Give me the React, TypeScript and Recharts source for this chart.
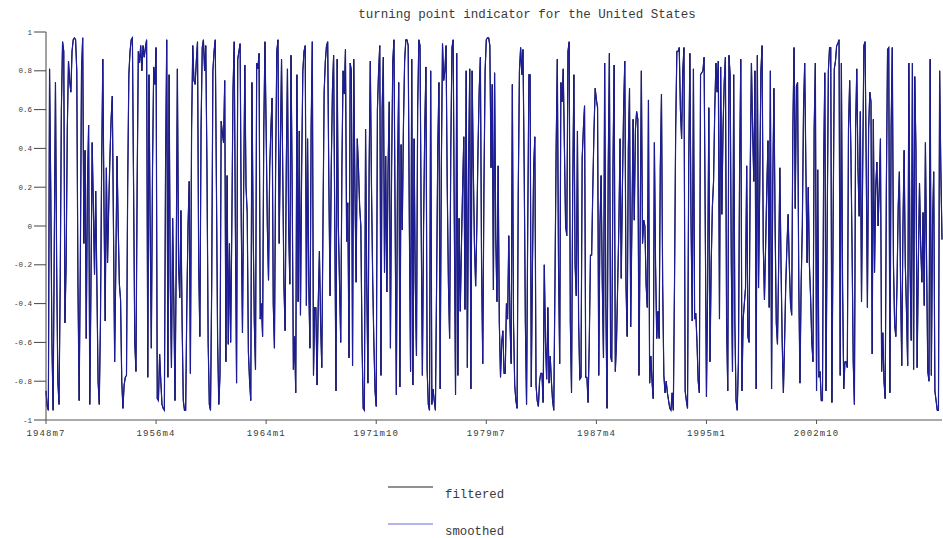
import { LineChart, Line, XAxis, YAxis } from "recharts";

const MONO = "'Liberation Mono', 'DejaVu Sans Mono', monospace";

// first observation: 1948m7, monthly
const START_YEAR = 1948;
const START_MONTH = 7;

// turning point indicator, one row per year
const tp1940s = [
  -0.85, -0.93, -0.95, 0.81, 0.2, -0.6,
  -0.95, -0.1, 0.74, -0.2, -0.8, -0.92, -0.3, 0.6, 0.95, 0.9, -0.5, -0.2,
];
const tp1950s = [
  0.5, 0.85, 0.75, 0.69, 0.9, 0.96, 0.97, 0.96, 0.8, -0.3, -0.9, -0.2,
  0.8, 0.97, -0.09, 0.39, -0.58, 0.2, 0.52, -0.92, -0.3, 0.43, 0.1, -0.25,
  0.18, -0.3, -0.8, -0.92, -0.5, 0.3, 0.86, 0.1, -0.49, 0.3, -0.19, 0.1,
  0.35, 0.55, 0.67, 0.0, -0.7, -0.2, 0.36, 0.0, -0.3, -0.38, -0.8, -0.94,
  -0.82, -0.78, -0.77, 0.2, 0.78, 0.9, 0.96, 0.97, 0.2, -0.6, -0.75, 0.2,
  0.9, 0.84, 0.93, 0.8, 0.93, 0.87, 0.92, 0.96, -0.78, 0.78, 0.0, -0.63,
  0.3, 0.82, 0.73, 0.92, -0.89, -0.9, -0.66, -0.8, -0.92, -0.94, -0.95, 0.3,
  0.96, -0.78, 0.78, -0.3, -0.73, 0.04, -0.4, -0.9, -0.2, 0.81, -0.2, -0.37,
  0.08, -0.5, -0.9, -0.95, -0.95, -0.4, 0.0, 0.23, -0.76, 0.5, 0.93, 0.75,
  0.73, 0.85, 0.95, -0.2, -0.57, 0.5, 0.92, 0.96, 0.8, 0.93, 0.3, -0.6,
];
const tp1960s = [
  -0.92, -0.95, -0.3, 0.8, 0.9, 0.96, 0.2, -0.6, -0.92, -0.77, 0.54, 0.48,
  0.43, 0.75, -0.7, 0.26, -0.61, -0.09, -0.6, 0.0, 0.7, 0.95, 0.0, -0.81,
  0.86, 0.9, 0.94, 0.0, -0.55, 0.2, 0.83, 0.2, 0.07, -0.65, -0.8, -0.9,
  0.74, 0.0, -0.5, -0.74, 0.84, 0.81, 0.89, -0.48, -0.4, -0.57, 0.5, 0.95,
  0.5, 0.0, -0.28, 0.3, 0.5, 0.66, -0.4, -0.63, 0.3, 0.9, 0.96, -0.09,
  0.4, 0.86, 0.3, -0.3, -0.54, 0.3, 0.81, 0.0, -0.3, 0.88, 0.2, -0.74,
  -0.57, -0.86, 0.78, -0.39, 0.49, -0.46, 0.3, 0.8, 0.9, 0.93, -0.41, 0.45,
  -0.3, -0.63, 0.5, 0.95, -0.77, -0.42, -0.42, -0.82, -0.4, -0.13, -0.5, -0.73,
  0.0, 0.69, 0.85, 0.93, 0.95, 0.2, -0.36, 0.3, 0.7, 0.88, 0.0, -0.85,
  0.86, 0.0, -0.3, -0.6, 0.3, 0.8, 0.68, 0.91, -0.08, 0.12, -0.68, 0.84,
];
const tp1970s = [
  0.8, -0.72, 0.86, 0.2, -0.29, 0.45, 0.3, 0.1, 0.0, -0.6, -0.94, -0.95,
  0.5, -0.3, -0.81, 0.3, 0.85, 0.2, -0.27, -0.6, -0.85, -0.93, 0.6, 0.8,
  0.93, -0.77, 0.6, 0.87, -0.24, 0.36, -0.34, 0.3, 0.64, -0.63, 0.3, 0.85,
  0.96, 0.0, -0.87, 0.3, 0.74, -0.83, 0.42, -0.02, 0.52, 0.85, 0.96, 0.96,
  0.93, 0.0, -0.75, 0.86, -0.82, 0.45, -0.3, -0.67, 0.6, 0.96, 0.93, 0.0,
  -0.77, 0.0, 0.5, 0.82, -0.74, -0.92, -0.95, 0.8, -0.92, -0.84, -0.9, -0.95,
  -0.3, 0.4, 0.74, -0.84, 0.3, 0.94, 0.75, 0.8, 0.93, 0.2, -0.3, -0.58,
  0.4, 0.92, 0.96, 0.0, -0.87, 0.89, -0.77, 0.04, -0.44, -0.1, 0.2, 0.46,
  -0.43, 0.8, -0.73, 0.3, 0.81, -0.84, 0.8, 0.3, -0.1, -0.31, 0.0, 0.4,
  0.7, 0.87, -0.2, -0.71, 0.2, 0.8, 0.96, 0.97, 0.97, 0.93, 0.3, 0.73,
];
const tp1980s = [
  -0.33, 0.79, -0.06, -0.39, 0.31, -0.5, -0.78, -0.6, -0.54, -0.76, -0.76, -0.4,
  -0.48, -0.05, -0.5, -0.71, 0.73, -0.5, -0.82, -0.9, -0.94, 0.18, 0.8, 0.92,
  0.78, 0.91, 0.3, -0.5, -0.92, 0.0, 0.78, 0.78, -0.83, -0.2, 0.3, 0.46,
  -0.82, -0.9, -0.93, -0.8, -0.76, -0.76, -0.91, -0.2, -0.6, -0.79, -0.42, -0.81,
  -0.67, -0.8, -0.9, -0.95, -0.3, 0.4, 0.86, -0.2, -0.71, 0.74, 0.64, 0.81,
  0.4, 0.0, -0.05, 0.9, 0.95, -0.5, -0.86, 0.2, 0.78, -0.2, -0.36, 0.49,
  -0.5, -0.79, -0.78, 0.35, 0.5, 0.62, -0.78, -0.78, -0.91, -0.6, -0.15, -0.15,
  0.2, 0.5, 0.71, 0.65, 0.61, -0.77, 0.0, 0.26, -0.3, -0.68, 0.84, -0.4,
  -0.94, 0.3, 0.89, -0.67, -0.7, 0.3, 0.83, -0.75, -0.6, -0.3, 0.0, 0.45,
  -0.27, 0.2, 0.6, 0.85, -0.3, -0.57, 0.4, 0.71, -0.52, 0.0, 0.55, 0.03,
];
const tp1990s = [
  0.5, 0.59, 0.55, -0.77, 0.0, 0.8, -0.09, 0.03, 0.0, -0.3, -0.42, 0.65,
  -0.81, -0.67, -0.8, -0.89, 0.43, -0.2, -0.58, -0.44, -0.58, 0.3, 0.68, -0.3,
  -0.77, -0.86, -0.8, -0.86, -0.9, -0.94, -0.95, -0.86, -0.95, -0.3, 0.5, 0.9,
  0.9, 0.92, 0.6, 0.45, 0.8, 0.92, -0.85, -0.9, -0.94, 0.3, 0.89, 0.0,
  -0.49, 0.81, -0.48, -0.45, -0.6, -0.8, -0.86, 0.78, 0.79, 0.8, 0.87, 0.0,
  -0.88, -0.3, 0.61, -0.7, -0.2, 0.1, 0.23, 0.6, 0.84, 0.69, 0.85, -0.48,
  0.82, 0.06, 0.5, 0.74, 0.87, -0.5, -0.85, 0.88, 0.78, -0.2, -0.75, 0.78,
  -0.5, -0.9, -0.95, -0.7, 0.3, 0.86, -0.85, -0.48, -0.4, -0.32, 0.31, -0.57,
  -0.6, 0.3, 0.84, 0.5, 0.23, 0.8, -0.84, 0.88, -0.32, 0.2, 0.8, 0.93,
  -0.1, -0.38, -0.1, 0.2, 0.44, -0.42, 0.8, -0.84, 0.2, 0.71, 0.0, -0.5,
];
const tp2000s = [
  -0.61, -0.2, 0.3, -0.2, -0.6, -0.86, -0.6, -0.3, -0.1, 0.06, -0.2, -0.4,
  -0.46, 0.5, 0.92, 0.09, 0.72, 0.74, -0.3, -0.81, -0.3, 0.0, 0.6, 0.84,
  0.3, -0.19, 0.2, -0.2, -0.37, -0.6, -0.7, 0.5, 0.84, -0.85, 0.29, -0.78,
  -0.75, -0.9, -0.9, 0.3, 0.79, -0.85, 0.0, 0.8, 0.92, 0.92, -0.91, 0.0,
  0.81, 0.85, 0.93, 0.94, 0.96, -0.77, 0.84, -0.3, -0.84, -0.7, -0.7, -0.73,
  0.5, 0.75, 0.4, -0.1, -0.7, -0.92, 0.5, 0.81, 0.3, 0.05, 0.59, -0.39,
  0.3, 0.93, 0.95, 0.3, -0.42, 0.5, 0.69, 0.64, -0.66, 0.55, -0.24, 0.2,
  0.33, 0.0, 0.2, 0.45, -0.75, -0.55, -0.8, -0.89, 0.2, 0.91, 0.92, -0.86,
  0.5, 0.92, -0.2, -0.51, -0.57, -0.3, 0.1, 0.28, -0.3, -0.72, 0.0, 0.39,
  -0.2, -0.44, -0.72, 0.84, -0.2, -0.59, 0.84, -0.74, 0.77, 0.39, -0.73, -0.2,
];
const tp2010s = [
  0.22, -0.1, -0.29, 0.07, -0.41, 0.43, -0.2, -0.75, -0.8, 0.86, -0.77, 0.0,
  0.28, -0.85, -0.9, -0.95, -0.95, 0.8, 0.3, -0.07,
];

const filtered = [
  ...tp1940s, ...tp1950s, ...tp1960s, ...tp1970s,
  ...tp1980s, ...tp1990s, ...tp2000s, ...tp2010s,
];
// the smoothed series lies on top of the filtered one
const smoothed = filtered;

const monthLabels = filtered.map((_, i) => {
  const m = START_MONTH - 1 + i;
  return `${START_YEAR + Math.floor(m / 12)}m${(m % 12) + 1}`;
});

const xTicks = [0, 93, 186, 279, 372, 465, 558, 651];
const yTicks = [-1, -0.8, -0.6, -0.4, -0.2, 0, 0.2, 0.4, 0.6, 0.8, 1];

const series = [
  { key: "filtered", color: "#000000", width: 1, legend: "#222" },
  { key: "smoothed", color: "#1c1c98", width: 1.2, legend: "#6a6ad8" },
];

const data = filtered.map((v, i) => ({
  t: i,
  filtered: v,
  smoothed: smoothed[i],
}));

export default function App() {
  const last = filtered.length - 1;
  return (
    <div
      style={{
        position: "absolute",
        left: 0,
        top: 0,
        width: 943,
        height: 538,
        background: "#fff",
        fontFamily: MONO,
      }}
    >
      <div
        style={{
          position: "absolute",
          left: 527,
          top: 8,
          transform: "translateX(-50%)",
          whiteSpace: "nowrap",
          fontSize: 12.5,
          color: "#3a3a3a",
        }}
      >
        turning point indicator for the United States
      </div>
      <LineChart
        width={943}
        height={538}
        data={data}
        margin={{ top: 32, right: 1, bottom: 88, left: 6 }}
      >
        <XAxis
          dataKey="t"
          type="number"
          domain={[0, last]}
          ticks={xTicks}
          interval={0}
          tickFormatter={(t) => monthLabels[t]}
          height={30}
          tickSize={4}
          tickMargin={6}
          stroke="#555"
          tick={{ fontSize: 9, fontFamily: MONO, fill: "#3a3a3a", letterSpacing: 1.1 }}
        />
        <YAxis
          domain={[-1, 1]}
          ticks={yTicks}
          interval={0}
          width={40}
          tickSize={12}
          stroke="#444"
          tick={{ fontSize: 7.5, fontFamily: MONO, fill: "#3a3a3a" }}
        />
        {series.map((s) => (
          <Line
            key={s.key}
            dataKey={s.key}
            type="linear"
            stroke={s.color}
            strokeWidth={s.width}
            dot={false}
            activeDot={false}
            isAnimationActive={false}
          />
        ))}
      </LineChart>
      <svg
        width={943}
        height={90}
        style={{ position: "absolute", left: 0, top: 470 }}
      >
        {series.map((s, i) => (
          <g key={s.key}>
            <line
              x1={388}
              x2={433}
              y1={17 + i * 37}
              y2={17 + i * 37}
              stroke={s.legend}
              strokeWidth={1}
            />
            <text
              x={445}
              y={25 + i * 37}
              dominantBaseline="central"
              fontSize={12.3}
              fontFamily={MONO}
              fill="#3a3a3a"
            >
              {s.key}
            </text>
          </g>
        ))}
      </svg>
    </div>
  );
}
